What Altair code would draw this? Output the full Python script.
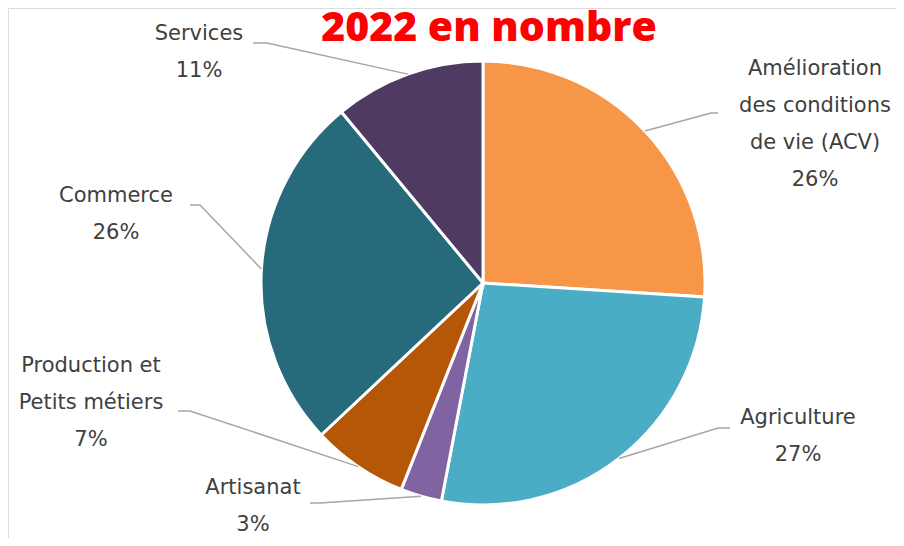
import altair as alt
import pandas as pd
import numpy as np

# ---- data ----
categories = ["Amélioration\ndes conditions\nde vie  (ACV)", "Agriculture", "Artisanat",
              "Production et\nPetits métiers", "Commerce", "Services"]
values = [26, 27, 3, 7, 26, 11]
colors = ["#F79646", "#4BACC6", "#8064A2", "#B65708", "#276A7C", "#4F3B62"]
title_text = "2022 en nombre"

# ---- layout (pixel positions in chart coordinates) ----
W, H = 888, 530
CX, CY, R = 475, 275, 222
# position of the first line of each label
label_pos = [(807, 61), (790, 410), (245, 480), (83, 358), (108, 188), (191, 26)]
elbows = [[(703, 105), (710, 105)], [(710, 420), (722, 420)], [(312, 495), (302, 495)],
          [(182, 403), (170, 403)], [(192, 197), (182, 197)], [(259, 35), (245, 35)]]

df = pd.DataFrame({"cat": categories, "val": values, "idx": range(len(values))})
total = sum(values)
df["label"] = [f"{c}\n{round(v / total * 100)}%" for c, v in zip(categories, values)]
df["lx"] = [p[0] for p in label_pos]
df["ly"] = [p[1] for p in label_pos]

# leader lines: start at mid-angle of each slice on the pie edge
cum = np.cumsum([0] + values)
rows = []
for i, c in enumerate(categories):
    mid = (cum[i] + values[i] / 2) / total * 2 * np.pi
    ex = CX + R * np.sin(mid)
    ey = CY - R * np.cos(mid)
    pts = [(ex, ey)] + elbows[i]
    for k, (px, py) in enumerate(pts):
        rows.append({"cat": c, "k": k, "x": px, "y": py})
lines = pd.DataFrame(rows)

xs = alt.Scale(domain=[0, W], range=[0, W])
ys = alt.Scale(domain=[0, H], range=[0, H])

pie = alt.Chart(df).mark_arc(radius=R, stroke="white", strokeWidth=3).encode(
    theta=alt.Theta("val:Q", stack=True),
    order=alt.Order("idx:Q"),
    color=alt.Color("cat:N", scale=alt.Scale(domain=categories, range=colors), legend=None),
    x=alt.value(CX), y=alt.value(CY),
)

leader = alt.Chart(lines).mark_line(color="#A6A6A6", strokeWidth=1.5).encode(
    x=alt.X("x:Q", scale=xs, axis=None),
    y=alt.Y("y:Q", scale=ys, axis=None),
    detail="cat:N",
    order="k:Q",
)

labels = alt.Chart(df).mark_text(
    font="DejaVu Sans", fontSize=21, color="#404040", align="center", baseline="middle",
    lineBreak="\n", lineHeight=37,
).encode(
    x=alt.X("lx:Q", scale=xs, axis=None),
    y=alt.Y("ly:Q", scale=ys, axis=None),
    text="label:N",
)

title = alt.Chart(pd.DataFrame({"t": [title_text]})).mark_text(
    font="Open Sans", fontSize=41, fontWeight=800, color="#FF0000",
    align="center", baseline="alphabetic",
).encode(x=alt.value(481), y=alt.value(33), text="t:N")

chart = alt.layer(pie, leader, labels, title).properties(
    width=W, height=H, padding=0, autosize=alt.AutoSizeParams(type="none")
).configure_view(stroke="transparent", strokeWidth=0).configure(background="white")

chart.save("out.html", embed_options={"renderer": "svg", "actions": False})
